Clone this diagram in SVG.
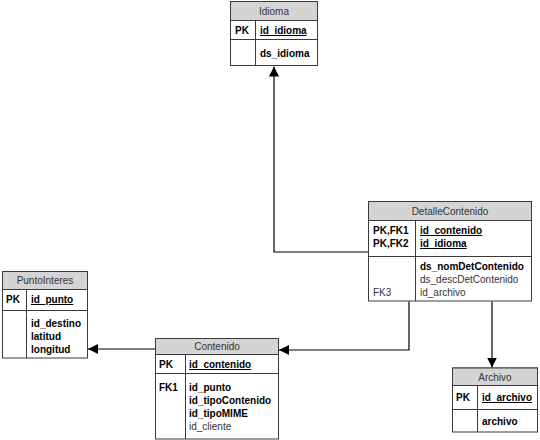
<svg xmlns="http://www.w3.org/2000/svg" width="540" height="440" viewBox="0 0 540 440">
<style>
  .box{fill:#ffffff;stroke:#3a3a3a;stroke-width:1}
  .hdr{fill:#d4d4d4;stroke:#3a3a3a;stroke-width:1}
  .sep{stroke:#3a3a3a;stroke-width:1;fill:none}
  text{font-family:"Liberation Sans",Arial,sans-serif;font-size:10px;fill:#000}
  .h{fill:#333;text-anchor:middle}
  .b{font-weight:bold}
  .u{text-decoration:underline}
  .n{fill:#333}
  .conn{stroke:#000;stroke-width:1.2;fill:none;marker-end:url(#arr)}
</style>
<defs>
  <marker id="arr" viewBox="0 0 10 10" refX="10" refY="5" markerWidth="10" markerHeight="10" markerUnits="userSpaceOnUse" orient="auto">
    <path d="M0,0 L10,5 L0,10 Z" fill="#000"/>
  </marker>
</defs>
<rect width="540" height="440" fill="#fff"/>
<g id="connectors">
  <polyline class="conn" points="368.5,252 274,252 274,66.5"/>
  <polyline class="conn" points="409,301.5 409,350 279,350"/>
  <polyline class="conn" points="492,301.5 492,367.5"/>
  <polyline class="conn" points="155.5,349 88,349"/>
</g>
<g id="Idioma">
  <rect class="box" x="230.5" y="1.5" width="87" height="64"/>
  <rect class="hdr" x="230.5" y="1.5" width="87" height="19"/>
  <line class="sep" x1="230.5" y1="39.5" x2="317.5" y2="39.5"/>
  <line class="sep" x1="255.5" y1="20.5" x2="255.5" y2="65.5"/>
  <text class="h" x="274" y="15">Idioma</text>
  <text class="b" x="235" y="34">PK</text>
  <text class="b u" x="260" y="34">id_idioma</text>
  <text class="b" x="260" y="57">ds_idioma</text>
</g>
<g id="DetalleContenido">
  <rect class="box" x="368.5" y="201.5" width="163" height="99.5"/>
  <rect class="hdr" x="368.5" y="201.5" width="163" height="19"/>
  <line class="sep" x1="368.5" y1="256.5" x2="531.5" y2="256.5"/>
  <line class="sep" x1="415.5" y1="220.5" x2="415.5" y2="301"/>
  <text class="h" x="450" y="214.5">DetalleContenido</text>
  <text class="b" x="373" y="234">PK,FK1</text>
  <text class="b" x="373" y="247">PK,FK2</text>
  <text class="b u" x="420" y="234">id_contenido</text>
  <text class="b u" x="420" y="247">id_idioma</text>
  <text class="b" x="420" y="270">ds_nomDetContenido</text>
  <text class="n" x="420" y="283">ds_descDetContenido</text>
  <text class="n" x="373" y="296">FK3</text>
  <text class="n" x="420" y="296">id_archivo</text>
</g>
<g id="PuntoInteres">
  <rect class="box" x="2.5" y="271.5" width="85" height="86.5"/>
  <rect class="hdr" x="2.5" y="271.5" width="85" height="18"/>
  <line class="sep" x1="2.5" y1="310.5" x2="87.5" y2="310.5"/>
  <line class="sep" x1="26.5" y1="289.5" x2="26.5" y2="358"/>
  <text class="h" x="45" y="284">PuntoInteres</text>
  <text class="b" x="6" y="303">PK</text>
  <text class="b u" x="31" y="303">id_punto</text>
  <text class="b" x="31" y="327">id_destino</text>
  <text class="b" x="31" y="340">latitud</text>
  <text class="b" x="31" y="353">longitud</text>
</g>
<g id="Contenido">
  <rect class="box" x="155.5" y="338.5" width="123" height="100.5"/>
  <rect class="hdr" x="155.5" y="338.5" width="123" height="16"/>
  <line class="sep" x1="155.5" y1="373.5" x2="278.5" y2="373.5"/>
  <line class="sep" x1="185.5" y1="354.5" x2="185.5" y2="439"/>
  <text class="h" x="217" y="350">Contenido</text>
  <text class="b" x="159" y="368">PK</text>
  <text class="b u" x="189" y="368">id_contenido</text>
  <text class="b" x="159" y="391">FK1</text>
  <text class="b" x="189" y="391">id_punto</text>
  <text class="b" x="189" y="404">id_tipoContenido</text>
  <text class="b" x="189" y="417">id_tipoMIME</text>
  <text class="n" x="189" y="430">id_cliente</text>
</g>
<g id="Archivo">
  <rect class="box" x="452.5" y="368" width="85" height="64"/>
  <rect class="hdr" x="452.5" y="368" width="85" height="17.5"/>
  <line class="sep" x1="452.5" y1="409.5" x2="537.5" y2="409.5"/>
  <line class="sep" x1="477.5" y1="385.5" x2="477.5" y2="432"/>
  <text class="h" x="495" y="380.5">Archivo</text>
  <text class="b" x="456" y="401">PK</text>
  <text class="b u" x="482" y="401">id_archivo</text>
  <text class="b" x="482" y="425">archivo</text>
</g>
</svg>
